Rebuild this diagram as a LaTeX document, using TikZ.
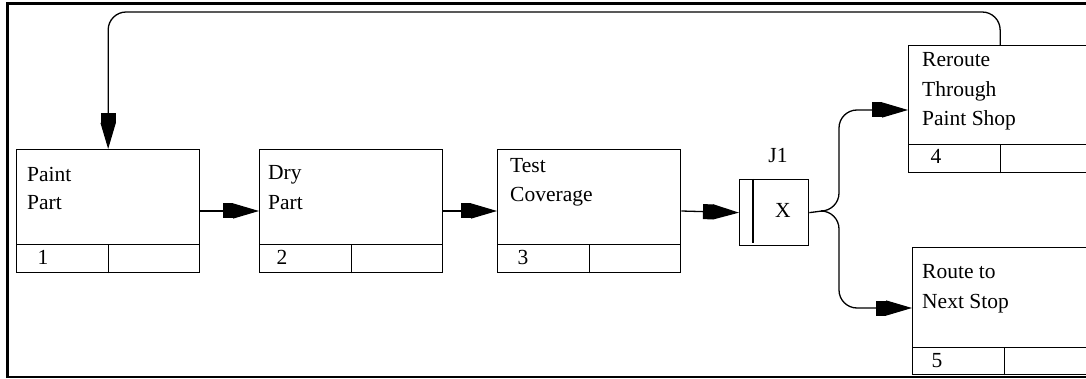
\documentclass[tikz,border=0pt]{standalone}
\usepackage{fontspec}
\setmainfont{Liberation Serif}
\usetikzlibrary{arrows.meta}
\tikzset{
  x=1pt, y=-1pt,
  proc/.style={draw, line width=1.3pt, minimum width=183pt, inner sep=0pt, anchor=north west},
  lbl/.style={font=\fontsize{21.5}{28}\selectfont, inner sep=0pt, anchor=base west},
  num/.style={font=\fontsize{21.5}{28}\selectfont, inner sep=0pt, anchor=base},
  conn/.style={line width=1.3pt, -{Rectangle[length=10pt,width=15pt]Triangle[length=26pt,width=15pt]}},
  plain/.style={line width=1.3pt},
}
\newcommand{\cells}[2]{%
  \draw[plain] ([yshift=#2]#1.south west) -- ([yshift=#2]#1.south east);
  \draw[plain] (#1.south) -- ([yshift=#2]#1.south);
}
\begin{document}
\begin{tikzpicture}
\useasboundingbox (0,0) rectangle (1086,379);
\clip (0,0) rectangle (1086,379);
% frame
\draw[line width=3pt] (7,378) -- (7,4) -- (1090,4);
\draw[line width=2pt] (7,376.5) -- (1090,376.5);

% process boxes
\node[proc, minimum height=123pt] (b1) at (16,149) {};
\node[proc, minimum height=123pt] (b2) at (259,149) {};
\node[proc, minimum height=123pt] (b3) at (497,149) {};
\node[proc, minimum height=127pt] (b4) at (908,45) {};
\node[proc, minimum height=127pt] (b5) at (912,247) {};
\cells{b1}{29pt}
\cells{b2}{29pt}
\cells{b3}{29pt}
\cells{b4}{29pt}
\cells{b5}{28pt}

% labels
\node[lbl] (t1a) at (27,182) {Paint};
\node[lbl] (t1b) at (27,210) {Part};
\node[lbl] (t2a) at (268,180) {Dry};
\node[lbl] (t2b) at (268,210) {Part};
\node[lbl] (t3a) at (510,173) {Test};
\node[lbl] (t3b) at (510,202) {Coverage};
\node[lbl] (t4a) at (922,67) {Reroute};
\node[lbl] (t4b) at (922,97) {Through};
\node[lbl] (t4c) at (922,126) {Paint Shop};
\node[lbl] (t5a) at (922,278) {Route to};
\node[lbl] (t5b) at (922,308) {Next Stop};

\node[num] (n1) at (43,265) {1};
\node[num] (n2) at (282,265) {2};
\node[num] (n3) at (523,265) {3};
\node[num] (n4) at (936,164) {4};
\node[num] (n5) at (937,367) {5};

% junction
\node[draw, line width=1.3pt, minimum width=69pt, minimum height=66pt, inner sep=0pt, anchor=north west] (j1) at (739,179) {};
\draw[plain] ([xshift=14pt]j1.north west) -- ([xshift=14pt,yshift=3pt]j1.south west);
\node[num] (jx) at (783,218) {X};
\node[num] (jl) at (778,163) {J1};

% connectors
\draw[conn] (b1.east |- 0,211) -- (b2.west |- 0,211);
\draw[conn] (b2.east |- 0,211) -- (b3.west |- 0,211);
\draw[conn] (b3.east |- 0,211) -- (j1.west);
\coordinate (fork) at (822,211);
\draw[plain] (j1.east) -- (fork);
\draw[conn, rounded corners=18pt] (fork) -- (839,211) -- (839,110) -- (b4.west |- 0,110);
\draw[conn, rounded corners=18pt] (fork) -- (839,211) -- (839,308) -- (b5.west |- 0,308);
\draw[conn, rounded corners=18pt] (b4.north) -- (b4.north |- 0,12) -- (b1.north |- 0,12) -- (b1.north);
\end{tikzpicture}
\end{document}
